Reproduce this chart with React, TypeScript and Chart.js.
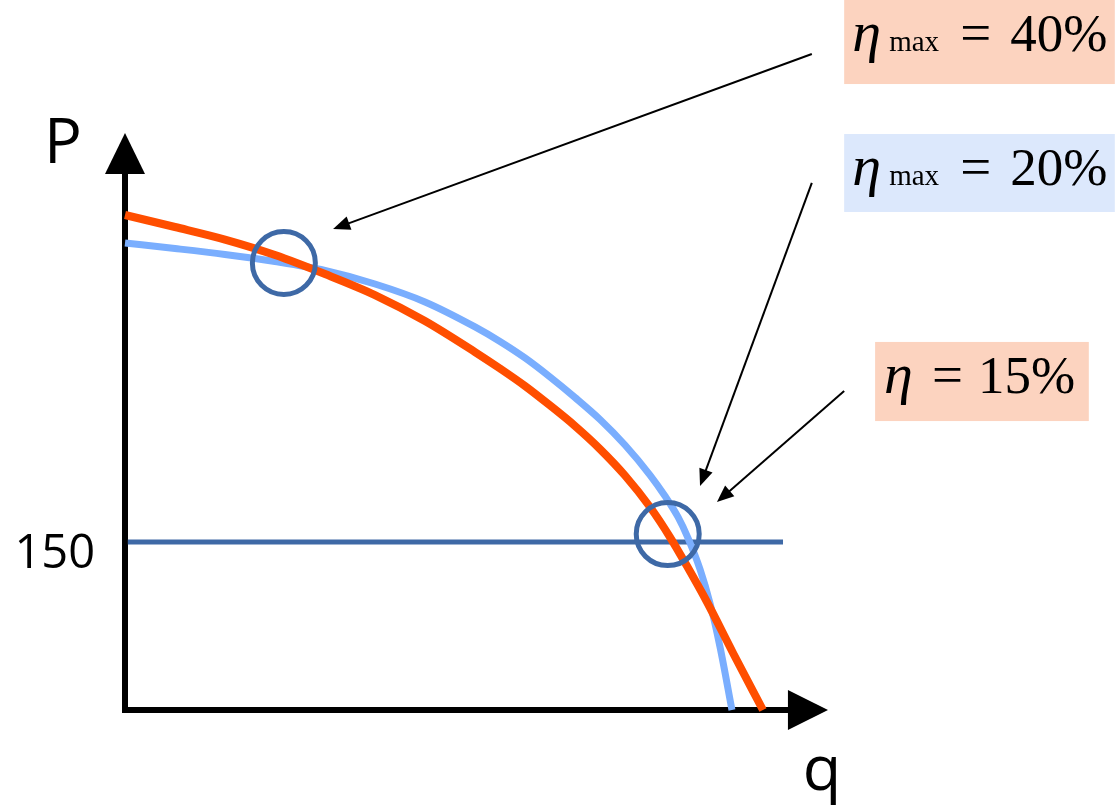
import React, { useEffect, useRef } from "react";
import { Chart, registerables } from "chart.js";

Chart.register(...registerables);

// ---- data (q = flow, P = pressure, arbitrary units) ----
const orangeQ = [0, 7.11, 14.22, 21.34, 28.45, 35.56, 42.67, 49.79, 53.34, 56.9, 60.46, 64.01, 67.57, 71.12, 74.68, 77.52, 79.94, 82.79, 86.49, 90.75];
const orangeP = [441.8, 431.1, 419.9, 406.1, 389.1, 370.4, 347.2, 319.5, 304.8, 289.2, 271.8, 253.5, 232.9, 209.3, 181.2, 154.4, 128.5, 96.4, 50.9, 0];

const blueQ = [0, 7.11, 14.22, 21.34, 28.45, 35.56, 42.67, 49.79, 53.34, 56.9, 60.46, 64.01, 67.57, 71.12, 74.68, 76.81, 78.66, 80.09, 81.79, 83.21, 84.64, 86.34];
const blueP = [416.8, 411.9, 406.6, 400.3, 392.3, 380.2, 364.2, 341.9, 328.9, 314.2, 297.2, 278.9, 259.3, 236.5, 209.7, 191.0, 172.3, 153.5, 125.8, 95.5, 56.2, 0];

const refLevel = 150;
const refLineQ = [0.4, 93.6];

const circleQ = [22.6, 77.2];
const circleP = [399, 157];

const xMax = 100;
const yMax = 515;
const axisQ = [0, 0, 95];
const axisP = [480, 0, 0];
const arrowBaseQ = 94.3;
const arrowBaseP = 478.4;

const yTickLabels = ["150"];
const yTickValues = [refLevel];
const xTitle = "q";
const yTitle = "P";

// annotations
const annoValues = ["40%", "20%", "15%"];
const annoSubs = ["max", "max", ""];
const annoBoxQ = [[102.3, 140.8], [102.3, 140.8], [106.7, 137.1]];
const annoBoxP = [[633.7, 558.7], [514.1, 444.5], [328.5, 257.9]];
const annoFills = ["#FCD3BF", "#DCE8FC", "#FCD3BF"];

const arrowFromQ = [97.7, 97.7, 102.3];
const arrowFromP = [585.5, 470.4, 284.7];
const arrowToQ = [29.6, 81.8, 84.2];
const arrowToP = [429.3, 199.9, 185.6];

const pts = (qs: number[], ps: number[]) => qs.map((q, i) => ({ x: q, y: ps[i] }));

const decorPlugin = {
  id: "decor",
  afterDatasetsDraw(chart: any) {
    const { ctx } = chart;
    const xs = chart.scales.x;
    const ys = chart.scales.y;
    const px = (q: number) => xs.getPixelForValue(q);
    const py = (p: number) => ys.getPixelForValue(p);
    ctx.save();

    // axis arrowheads
    ctx.fillStyle = "#000";
    const x0 = px(0);
    const y0 = py(0);
    ctx.beginPath();
    ctx.moveTo(px(xMax), y0);
    ctx.lineTo(px(arrowBaseQ), y0 - 20);
    ctx.lineTo(px(arrowBaseQ), y0 + 20);
    ctx.closePath();
    ctx.fill();
    ctx.beginPath();
    ctx.moveTo(x0, py(yMax));
    ctx.lineTo(x0 - 20, py(arrowBaseP));
    ctx.lineTo(x0 + 20, py(arrowBaseP));
    ctx.closePath();
    ctx.fill();

    // axis labels
    ctx.fillStyle = "#000";
    ctx.textBaseline = "alphabetic";
    ctx.font = '47px "Open Sans"';
    ctx.textAlign = "right";
    yTickLabels.forEach((t, i) => ctx.fillText(t, x0 - 30, py(yTickValues[i]) + 26));
    ctx.font = '63px "Open Sans"';
    ctx.textAlign = "center";
    ctx.fillText(yTitle, x0 - 62, py(yMax) + 30);
    ctx.fillText(xTitle, px(xMax) - 6, y0 + 80);

    // annotation boxes
    annoValues.forEach((v, i) => {
      const l = px(annoBoxQ[i][0]);
      const r = px(annoBoxQ[i][1]);
      const t = py(annoBoxP[i][0]);
      const b = py(annoBoxP[i][1]);
      ctx.fillStyle = annoFills[i];
      ctx.fillRect(l, t, r - l, b - t);
      ctx.fillStyle = "#000";
      ctx.textAlign = "left";
      const base = t + 51;
      ctx.font = 'italic 58px "Liberation Serif"';
      if (annoSubs[i]) {
        ctx.fillText("\u03B7", l + 8, base);
        ctx.font = '29px "Liberation Serif"';
        ctx.fillText(annoSubs[i], l + 45, base);
        ctx.font = '55px "Liberation Serif"';
        ctx.fillText("=", l + 116, base);
        ctx.font = '53px "Liberation Serif"';
        ctx.fillText(v, l + 166, base);
      } else {
        ctx.fillText("\u03B7", l + 9, base);
        ctx.font = '55px "Liberation Serif"';
        ctx.fillText("=", l + 57, base);
        ctx.font = '53px "Liberation Serif"';
        ctx.fillText(v, l + 103, base);
      }
    });

    // annotation arrows
    ctx.strokeStyle = "#000";
    ctx.fillStyle = "#000";
    ctx.lineWidth = 2;
    arrowFromQ.forEach((fq, i) => {
      const x1 = px(fq), y1 = py(arrowFromP[i]);
      const x2 = px(arrowToQ[i]), y2 = py(arrowToP[i]);
      const ang = Math.atan2(y2 - y1, x2 - x1);
      const hl = 17, hw = 7;
      const bx = x2 - Math.cos(ang) * hl;
      const by = y2 - Math.sin(ang) * hl;
      ctx.beginPath();
      ctx.moveTo(x1, y1);
      ctx.lineTo(bx + Math.cos(ang) * 2, by + Math.sin(ang) * 2);
      ctx.stroke();
      ctx.beginPath();
      ctx.moveTo(x2, y2);
      ctx.lineTo(bx - Math.sin(ang) * hw, by + Math.cos(ang) * hw);
      ctx.lineTo(bx + Math.sin(ang) * hw, by - Math.cos(ang) * hw);
      ctx.closePath();
      ctx.fill();
    });

    ctx.restore();
  },
};

export default function App() {
  const ref = useRef<HTMLCanvasElement>(null);

  useEffect(() => {
    if (!ref.current) return;
    const chart = new Chart(ref.current, {
      type: "scatter",
      data: {
        datasets: [
          {
            label: "circles",
            data: pts(circleQ, circleP),
            showLine: false,
            pointRadius: 31.5,
            pointHoverRadius: 31.5,
            pointBorderWidth: 5,
            pointBorderColor: "#3E69A6",
            pointBackgroundColor: "rgba(0,0,0,0)",
            order: 0,
            clip: false,
          } as any,
          {
            label: "ηmax = 40%",
            data: pts(orangeQ, orangeP),
            showLine: true,
            borderColor: "#FF4E00",
            borderWidth: 8,
            pointRadius: 0,
            cubicInterpolationMode: "monotone",
            borderCapStyle: "butt",
            order: 1,
            clip: false,
          } as any,
          {
            label: "ηmax = 20%",
            data: pts(blueQ, blueP),
            showLine: true,
            borderColor: "#7AAEFE",
            borderWidth: 7,
            pointRadius: 0,
            cubicInterpolationMode: "monotone",
            borderCapStyle: "butt",
            order: 2,
            clip: false,
          } as any,
          {
            label: "P = 150",
            data: refLineQ.map((q) => ({ x: q, y: refLevel })),
            showLine: true,
            borderColor: "#3E69A6",
            borderWidth: 5,
            pointRadius: 0,
            order: 3,
            clip: false,
          } as any,
          {
            label: "axes",
            data: pts(axisQ, axisP),
            showLine: true,
            borderColor: "#000",
            borderWidth: 6,
            pointRadius: 0,
            borderJoinStyle: "miter",
            borderCapStyle: "butt",
            order: 4,
            clip: false,
          } as any,
        ],
      },
      options: {
        animation: false,
        responsive: false,
        devicePixelRatio: 1,
        layout: { padding: { left: 125, right: 287, top: 133, bottom: 96 } },
        scales: {
          x: { type: "linear", min: 0, max: xMax, display: false },
          y: { type: "linear", min: 0, max: yMax, display: false },
        },
        plugins: {
          legend: { display: false },
          tooltip: { enabled: false },
        },
        events: [],
      },
      plugins: [decorPlugin],
    });
    return () => chart.destroy();
  }, []);

  return (
    <div style={{ position: "fixed", left: 0, top: 0, width: 1115, height: 806, background: "#fff" }}>
      <canvas ref={ref} width={1115} height={806} style={{ width: 1115, height: 806, display: "block" }} />
    </div>
  );
}
